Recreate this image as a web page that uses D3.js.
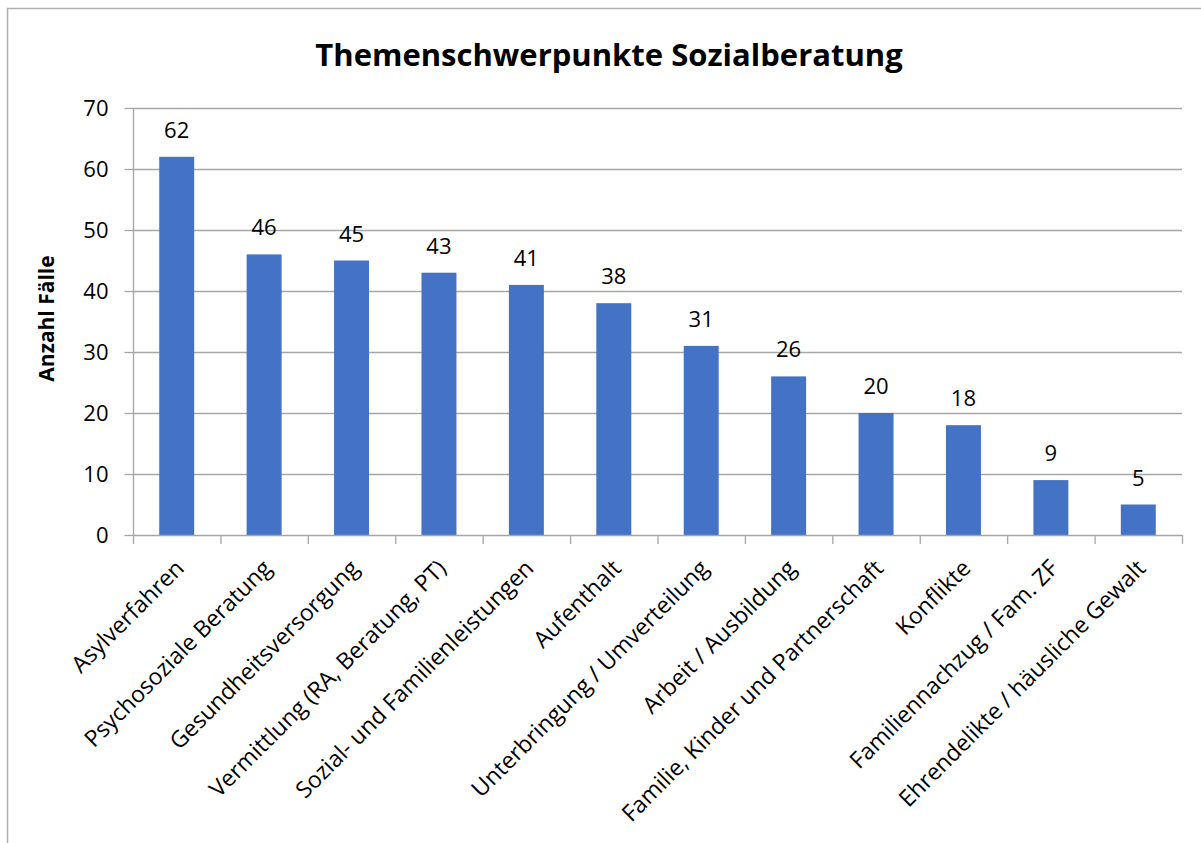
<!DOCTYPE html>
<html><head><meta charset="utf-8">
<script src="https://cdn.jsdelivr.net/npm/d3@7"></script>
<style>body{margin:0;background:#fff;} text{font-family:"Open Sans",sans-serif;}</style>
</head><body>
<svg id="c" width="1201" height="843"></svg>
<script>
const categories = ["Asylverfahren","Psychosoziale Beratung","Gesundheitsversorgung","Vermittlung (RA, Beratung, PT)","Sozial- und Familienleistungen","Aufenthalt","Unterbringung / Umverteilung","Arbeit / Ausbildung","Familie, Kinder und Partnerschaft","Konflikte","Familiennachzug / Fam. ZF","Ehrendelikte / häusliche Gewalt"];
const values = [62,46,45,43,41,38,31,26,20,18,9,5];
const yTicks = [0,10,20,30,40,50,60,70];
const title = "Themenschwerpunkte Sozialberatung";
const yLabel = "Anzahl Fälle";

const FONT = "'Open Sans', sans-serif";
const svg = d3.select("#c");
svg.append("rect").attr("x",7.5).attr("y",8.5).attr("width",1300).attr("height",1000)
  .attr("fill","#fff").attr("stroke","#b0b0b0").attr("stroke-width",1.5);

const m = {l:133, r:1182, t:108, b:535};
const x = d3.scaleBand().domain(categories).range([m.l,m.r]).paddingInner(0.6).paddingOuter(0.3);
const y = d3.scaleLinear().domain([0,70]).range([m.b,m.t]);

// gridlines
svg.append("g").selectAll("line").data(yTicks.filter(d=>d>0)).join("line")
  .attr("x1",m.l).attr("x2",m.r).attr("y1",d=>Math.round(y(d))+0.5).attr("y2",d=>Math.round(y(d))+0.5)
  .attr("stroke","#a6a6a6").attr("stroke-width",1.3);

// y axis
const ya = svg.append("g").attr("transform",`translate(${m.l+0.5},0)`)
  .call(d3.axisLeft(y).tickValues(yTicks).tickSize(9).tickPadding(16));
ya.select(".domain").attr("stroke","#a6a6a6").attr("stroke-width",1.3).attr("d",`M0,${m.t}V${m.b}`);
ya.selectAll(".tick line").attr("stroke","#a6a6a6").attr("stroke-width",1.3);
ya.selectAll(".tick text").attr("font-size",22).attr("fill","#000").style("font-family",FONT);

// bars
svg.append("g").selectAll("rect").data(values).join("rect")
  .attr("x",(d,i)=>x(categories[i])).attr("width",x.bandwidth())
  .attr("y",d=>y(d)).attr("height",d=>y(0)-y(d)).attr("fill","#4472c4");

// x axis
const step = (m.r-m.l)/categories.length;
const xa = svg.append("g");
xa.append("line").attr("x1",m.l).attr("x2",m.r).attr("y1",m.b+0.5).attr("y2",m.b+0.5)
  .attr("stroke","#a6a6a6").attr("stroke-width",1.3);
xa.selectAll("line.t").data(d3.range(categories.length+1)).join("line").attr("class","t")
  .attr("x1",i=>m.l+i*step+0.5).attr("x2",i=>m.l+i*step+0.5).attr("y1",m.b).attr("y2",m.b+9)
  .attr("stroke","#a6a6a6").attr("stroke-width",1.3);
xa.selectAll("text").data(categories).join("text")
  .attr("transform",d=>`translate(${x(d)+x.bandwidth()/2-3},${m.b+23}) rotate(-45)`)
  .attr("text-anchor","end").attr("dy","0.72em").attr("font-size",23).attr("fill","#000").text(d=>d);

// data labels
svg.append("g").selectAll("text").data(values).join("text")
  .attr("x",(d,i)=>x(categories[i])+x.bandwidth()/2).attr("y",d=>y(d)-19)
  .attr("text-anchor","middle").attr("font-size",22).attr("fill","#000").text(d=>d);

svg.append("text").attr("x",609).attr("y",66).attr("text-anchor","middle")
  .attr("font-size",31).attr("font-weight","bold").attr("fill","#000").text(title);
svg.append("text").attr("transform",`translate(54,${(m.t+m.b)/2-3}) rotate(-90)`)
  .attr("text-anchor","middle").attr("font-size",21).attr("font-weight","bold").attr("fill","#000").text(yLabel);
</script>
</body></html>
